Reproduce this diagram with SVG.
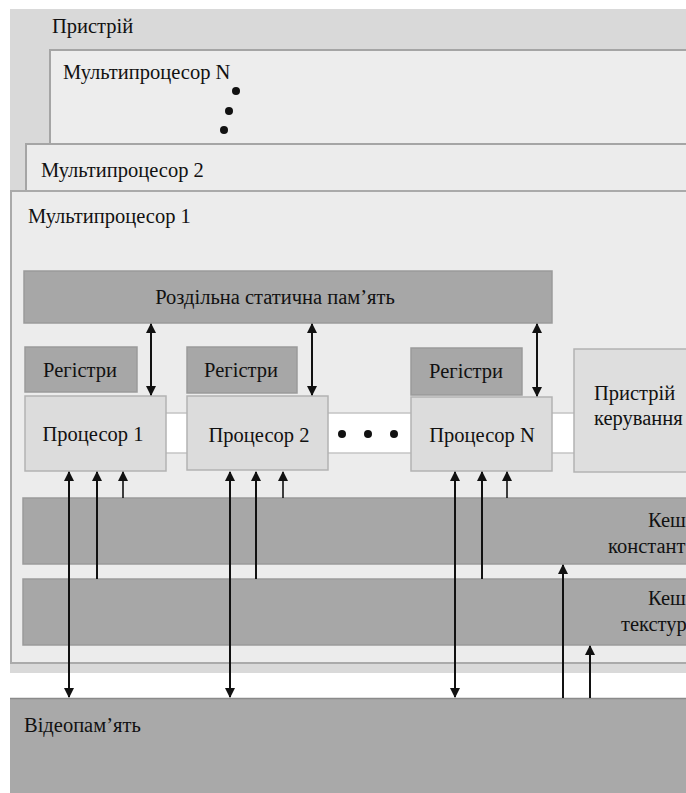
<svg xmlns="http://www.w3.org/2000/svg" width="686" height="793" viewBox="0 0 686 793">
<defs>
<marker id="ah" viewBox="0 0 10 10" refX="9" refY="5" markerWidth="10" markerHeight="10" markerUnits="userSpaceOnUse" orient="auto-start-reverse">
<path d="M0,0 L10,5 L0,10 z" fill="#111"/>
</marker>
<style>
text{font-family:"Liberation Serif","Times New Roman",serif;font-size:20.5px;fill:#111}
.c{text-anchor:middle}
.ln{stroke:#111;stroke-width:2;fill:none}
.lt{stroke:#111;stroke-width:1.6;fill:none}
.dark{fill:#a7a7a7;stroke:#9a9a9a;stroke-width:1.5}
.proc{fill:#dcdcdc;stroke:#b3b3b3;stroke-width:1.5}
</style>
</defs>
<rect width="686" height="793" fill="#ffffff"/>
<g id="device">
<rect x="10" y="9" width="680" height="664" fill="#d9d9d9"/>
<text x="52" y="33">Пристрій</text>
</g>
<g id="mpN">
<rect x="50" y="50" width="640" height="100" fill="#ededed" stroke="#a5a5a5" stroke-width="2"/>
<text x="63" y="79">Мультипроцесор N</text>
<circle cx="236" cy="91" r="4" fill="#111"/>
<circle cx="229" cy="111" r="4" fill="#111"/>
<circle cx="224" cy="130" r="4" fill="#111"/>
</g>
<g id="mp2">
<rect x="26" y="144" width="664" height="60" fill="#ececec" stroke="#a5a5a5" stroke-width="2"/>
<text x="41" y="177">Мультипроцесор 2</text>
</g>
<g id="mp1">
<rect x="11" y="191" width="680" height="472" fill="#ececec" stroke="#aaaaaa" stroke-width="2"/>
<text x="28" y="223">Мультипроцесор 1</text>
</g>
<g id="bus">
<rect x="160" y="413" width="420" height="40" fill="#ffffff" stroke="#c4c4c4" stroke-width="1.5"/>
<circle cx="342" cy="434" r="4" fill="#111"/>
<circle cx="368" cy="434" r="4" fill="#111"/>
<circle cx="394" cy="434" r="4" fill="#111"/>
</g>
<g id="shared">
<rect x="24" y="271" width="528" height="52" class="dark"/>
<text x="275" y="304" class="c">Роздільна статична пам’ять</text>
</g>
<g id="reg1">
<rect x="25" y="347" width="112" height="45" class="dark"/>
<text x="80" y="377" class="c">Регістри</text>
</g>
<g id="reg2">
<rect x="187" y="347" width="110" height="46" class="dark"/>
<text x="241" y="377" class="c">Регістри</text>
</g>
<g id="regN">
<rect x="411" y="348" width="111" height="47" class="dark"/>
<text x="466" y="378" class="c">Регістри</text>
</g>
<g id="proc1">
<rect x="25" y="396" width="141" height="75" class="proc"/>
<text x="93" y="441" class="c">Процесор 1</text>
</g>
<g id="proc2">
<rect x="187" y="396" width="141" height="74" class="proc"/>
<text x="259" y="442" class="c">Процесор 2</text>
</g>
<g id="procN">
<rect x="411" y="397" width="141" height="74" class="proc"/>
<text x="482" y="442" class="c">Процесор N</text>
</g>
<g id="control">
<rect x="574" y="349" width="120" height="123" fill="#dedede" stroke="#b3b3b3" stroke-width="1.5"/>
<text x="594" y="400">Пристрій</text>
<text x="594" y="425">керування</text>
</g>
<g id="constcache">
<rect x="23" y="498" width="670" height="66" class="dark"/>
<text x="648" y="527">Кеш</text>
<text x="608" y="553">констант</text>
</g>
<g id="texcache">
<rect x="23" y="579" width="670" height="66" class="dark"/>
<text x="648" y="605">Кеш</text>
<text x="621" y="631">текстур</text>
</g>
<g id="videomem">
<rect x="10" y="698" width="680" height="100" fill="#a9a9a9"/>
<line x1="10" y1="698.5" x2="686" y2="698.5" stroke="#8a8a8a" stroke-width="1.5"/>
<text x="24" y="732">Відеопам’ять</text>
</g>
<g id="connectors">
<line x1="151" y1="324" x2="151" y2="395" class="ln" marker-start="url(#ah)" marker-end="url(#ah)"/>
<line x1="312" y1="324" x2="312" y2="395" class="ln" marker-start="url(#ah)" marker-end="url(#ah)"/>
<line x1="537" y1="324" x2="537" y2="396" class="ln" marker-start="url(#ah)" marker-end="url(#ah)"/>
<line x1="69" y1="472" x2="69" y2="697" class="ln" marker-start="url(#ah)" marker-end="url(#ah)"/>
<line x1="97" y1="579" x2="97" y2="472" class="ln" marker-end="url(#ah)"/>
<line x1="123" y1="498" x2="123" y2="472" class="lt" marker-end="url(#ah)"/>
<line x1="230" y1="472" x2="230" y2="697" class="ln" marker-start="url(#ah)" marker-end="url(#ah)"/>
<line x1="256" y1="579" x2="256" y2="472" class="ln" marker-end="url(#ah)"/>
<line x1="283" y1="498" x2="283" y2="472" class="lt" marker-end="url(#ah)"/>
<line x1="455" y1="472" x2="455" y2="697" class="ln" marker-start="url(#ah)" marker-end="url(#ah)"/>
<line x1="482" y1="579" x2="482" y2="472" class="ln" marker-end="url(#ah)"/>
<line x1="507" y1="498" x2="507" y2="472" class="lt" marker-end="url(#ah)"/>
<line x1="563" y1="698" x2="563" y2="565" class="ln" marker-end="url(#ah)"/>
<line x1="590" y1="698" x2="590" y2="646" class="ln" marker-end="url(#ah)"/>
</g>
</svg>
